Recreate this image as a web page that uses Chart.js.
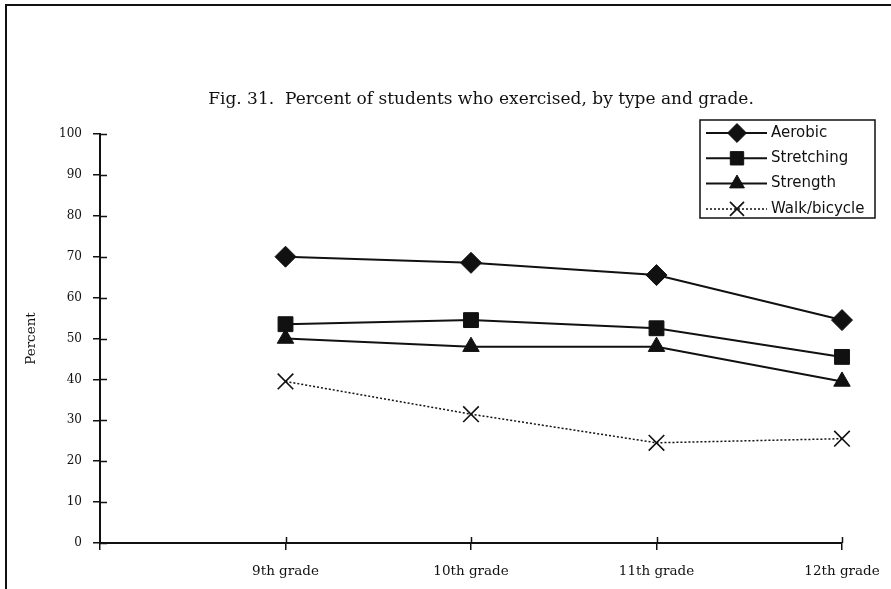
<!DOCTYPE html>
<html>
<head>
<meta charset="utf-8">
<script src="https://cdn.jsdelivr.net/npm/chart.js@4.4.1/dist/chart.umd.min.js"></script>
<style>
  html, body { margin: 0; padding: 0; background: #fff; }
  #wrap  { position: relative; width: 891px; height: 589px; overflow: hidden; }
  #frame { position: absolute; left: 5px; top: 4px; right: -10px; bottom: -10px;
           border-top: 2px solid #111; border-left: 2px solid #111; pointer-events: none; }
  canvas { position: absolute; left: 0; top: 0; }
</style>
</head>
<body>
<div id="wrap">
  <canvas id="chart" width="891" height="589"></canvas>
  <div id="frame"></div>
</div>
<script>
// valores (primeira categoria vazia, como no original)
const grades     = ['', '9th grade', '10th grade', '11th grade', '12th grade'];
const aerobic    = [null, 70, 68.5, 65.5, 54.5];
const stretching = [null, 53.5, 54.5, 52.5, 45.5];
const strength   = [null, 50, 48, 48, 39.5];
const walkBike   = [null, 39.5, 31.5, 24.5, 25.5];
const seriesNames = ['Aerobic', 'Stretching', 'Strength', 'Walk/bicycle'];
const TITLE = 'Fig. 31.  Percent of students who exercised, by type and grade.';

const INK = '#111';
const SERIF = '"DejaVu Serif", serif';
const SANS  = '"DejaVu Sans", sans-serif';

// título desenhado à mão (centro fora do centro do canvas)
const titlePlugin = {
  id: 'figTitle',
  afterDraw(chart) {
    const ctx = chart.ctx;
    ctx.save();
    ctx.font = '17px ' + SERIF;
    ctx.fillStyle = INK;
    ctx.textAlign = 'center';
    ctx.textBaseline = 'middle';
    ctx.fillText(TITLE, 481, 100);
    ctx.restore();
  }
};

// metade interna dos ticks (os ticks cruzam os eixos)
const innerTicks = {
  id: 'innerTicks',
  afterDraw(chart) {
    const { x, y } = chart.scales;
    const ctx = chart.ctx;
    ctx.save();
    ctx.strokeStyle = INK;
    ctx.lineWidth = 1.5;
    ctx.beginPath();
    y.ticks.forEach((t, i) => {
      const py = Math.round(y.getPixelForTick(i)) + 0.5;
      ctx.moveTo(y.right, py); ctx.lineTo(y.right + 7, py);
    });
    x.ticks.forEach((t, i) => {
      if (i === 0) return;
      const px = Math.round(x.getPixelForTick(i)) + 0.5;
      ctx.moveTo(px, x.top); ctx.lineTo(px, x.top - 6);
    });
    ctx.stroke();
    ctx.restore();
  }
};

// legenda com caixa, linha e marcador
const boxLegend = {
  id: 'boxLegend',
  afterDraw(chart) {
    const ctx = chart.ctx;
    const bx = 700, by = 120, bw = 175, bh = 98;
    ctx.save();
    ctx.fillStyle = '#fff';
    ctx.fillRect(bx, by, bw, bh);
    ctx.strokeStyle = INK;
    ctx.lineWidth = 1.5;
    ctx.strokeRect(bx, by, bw, bh);
    chart.data.datasets.forEach((ds, i) => {
      const cy = 133 + i * 25.3;
      ctx.strokeStyle = INK;
      ctx.lineWidth = ds.borderWidth;
      ctx.setLineDash(ds.borderDash || []);
      ctx.beginPath();
      ctx.moveTo(706, cy); ctx.lineTo(767, cy);
      ctx.stroke();
      ctx.setLineDash([]);
      ctx.fillStyle = INK;
      ctx.lineWidth = ds.pointBorderWidth;
      Chart.helpers.drawPoint(ctx, {
        pointStyle: ds.pointStyle, radius: ds.pointRadius * 0.9,
        borderWidth: ds.pointBorderWidth, rotation: 0
      }, 737, cy);
      ctx.fillStyle = INK;
      ctx.font = '15px ' + SANS;
      ctx.textAlign = 'left';
      ctx.textBaseline = 'middle';
      ctx.fillText(ds.label, 771, cy);
    });
    ctx.restore();
  }
};

function serie(label, data, style, radius, extra) {
  return Object.assign({
    label, data,
    borderColor: INK, backgroundColor: INK,
    pointBackgroundColor: INK, pointBorderColor: INK,
    borderWidth: 2, pointStyle: style, pointRadius: radius,
    pointBorderWidth: 1, tension: 0, spanGaps: false
  }, extra || {});
}

new Chart(document.getElementById('chart'), {
  type: 'line',
  data: {
    labels: grades,
    datasets: [
      serie(seriesNames[0], aerobic, 'rectRot', 10.5),
      serie(seriesNames[1], stretching, 'rect', 10.5),
      serie(seriesNames[2], strength, 'triangle', 9.5),
      serie(seriesNames[3], walkBike, 'crossRot', 11,
        { borderWidth: 1.5, borderDash: [2, 2], pointBorderWidth: 1.6 })
    ]
  },
  options: {
    responsive: false,
    animation: false,
    layout: { padding: { top: 134, right: 49, bottom: 0, left: 0 } },
    plugins: { legend: { display: false }, tooltip: { enabled: false }, title: { display: false } },
    scales: {
      x: {
        type: 'category',
        offset: false,
        grid: { drawOnChartArea: false, tickLength: 7, color: INK, lineWidth: 1.5 },
        border: { color: INK, width: 2 },
        ticks: { color: INK, font: { family: SERIF, size: 13.5 }, padding: 13, autoSkip: false, maxRotation: 0 },
        afterFit(s) { s.height = 46; s.paddingRight = 0; s.paddingLeft = 0; }
      },
      y: {
        min: 0, max: 100,
        grid: { drawOnChartArea: false, tickLength: 7, color: INK, lineWidth: 1.5 },
        border: { color: INK, width: 2 },
        ticks: { stepSize: 10, color: INK, font: { family: SERIF, size: 12 }, padding: 11 },
        title: { display: true, text: 'Percent', color: INK, font: { family: SERIF, size: 13.5 }, padding: { top: 23, bottom: 0 } },
        afterFit(s) { s.width = 100; }
      }
    }
  },
  plugins: [titlePlugin, innerTicks, boxLegend]
});
</script>
</body>
</html>
